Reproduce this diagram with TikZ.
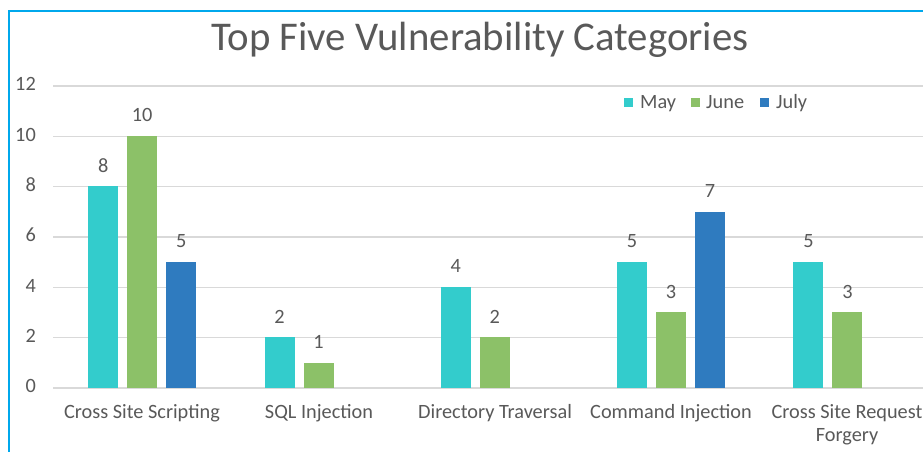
\documentclass[tikz,border=0pt]{standalone}
\usepackage{fontspec}
\setmainfont{Carlito}
\definecolor{may}{HTML}{33CCCC}
\definecolor{june}{HTML}{8CC168}
\definecolor{july}{HTML}{2F7BBF}
\definecolor{frame}{HTML}{00A8EC}
\definecolor{grid}{HTML}{D9D9D9}
\definecolor{txt}{HTML}{595959}
\tikzset{
  vbar/.style={inner sep=0pt, minimum width=30pt, anchor=south west},
  val/.style={text=txt, font=\fontsize{20.3}{23}\selectfont, inner sep=0pt, anchor=base},
  ylab/.style={text=txt, font=\fontsize{20.3}{23}\selectfont, inner sep=0pt, anchor=mid east},
  cat/.style={text=txt, font=\fontsize{20.3}{23}\selectfont, inner sep=0pt, anchor=north, align=center},
  leg/.style={text=txt, font=\fontsize{20.3}{23}\selectfont, inner sep=0pt, anchor=mid west},
  legsq/.style={inner sep=0pt, minimum size=9pt},
}
\begin{document}
\begin{tikzpicture}[x=1pt,y=-1pt]
\useasboundingbox (0,0) rectangle (923,452);
\fill[white] (0,0) rectangle (923,452);
\draw[frame, line width=2pt] (9,470) -- (9,11) -- (940,11);
\node[text=txt, font=\fontsize{40.8}{44}\selectfont, inner sep=0pt, anchor=base] (title) at (480,51) {Top Five Vulnerability Categories};
\foreach \v in {0,2,...,12}{
  \pgfmathsetmacro\yy{388-\v*25.17}
  \draw[grid, line width=1.2pt] (53,\yy) -- (923,\yy);
  \node[ylab] (y\v) at (36,\yy+2.5) {\v};
}
\foreach \g/\s/\v/\c in {0/0/8/may,0/1/10/june,0/2/5/july,1/0/2/may,1/1/1/june,2/0/4/may,2/1/2/june,3/0/5/may,3/1/3/june,3/2/7/july,4/0/5/may,4/1/3/june}{
  \pgfmathsetmacro\xl{88+\g*176.3+\s*39}
  \pgfmathsetmacro\hh{\v*25.17}
  \node[vbar, fill=\c, minimum height=\hh pt] (b\g\s) at (\xl,388) {};
  \node[val] (v\g\s) at ([yshift=14pt]b\g\s.north) {\v};
}
\node[cat] (c0) at (142,404) {Cross Site Scripting};
\node[cat] (c1) at (319,404) {SQL Injection};
\node[cat] (c2) at (495,404) {Directory Traversal};
\node[cat] (c3) at (671,404) {Command Injection};
\node[cat] (c4) at (847,404) {Cross Site Request\\Forgery};
\node[legsq, fill=may] (lm) at (628.5,102) {};
\node[leg] (tm) at (640,106.5) {May};
\node[legsq, fill=june] (lj) at (695.5,102) {};
\node[leg] (tj) at (706,106.5) {June};
\node[legsq, fill=july] (ll) at (764.5,102) {};
\node[leg] (tl) at (776,106.5) {July};
\end{tikzpicture}
\end{document}
